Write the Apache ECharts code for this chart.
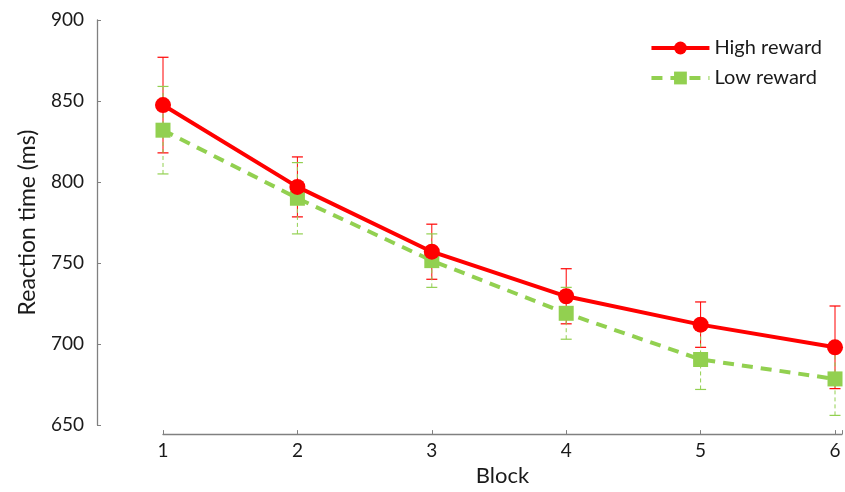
<!DOCTYPE html>
<html>
<head>
<meta charset="utf-8">
<script src="https://cdn.jsdelivr.net/npm/echarts@6/dist/echarts.min.js"></script>
<style>html,body{margin:0;padding:0;background:#fff}#c{width:845px;height:492px}</style>
</head>
<body>
<div id="c"></div>
<script>
const blocks = [1, 2, 3, 4, 5, 6];
const highReward = [847.5, 797, 757, 729.5, 712, 698];
const highErr = [29.5, 18.5, 17, 17, 14, 25.5];
const lowReward = [832, 790, 751.5, 719, 690.5, 678.5];
const lowErr = [27, 22, 16.5, 16, 18.5, 22.5];
const yTicks = [650, 700, 750, 800, 850, 900];

const FONT = 'Lato';
const RED = '#FF0000';
const GREEN = '#92D050';

function errData(vals, errs) {
  return blocks.map((b, i) => [b, vals[i] - errs[i], vals[i] + errs[i]]);
}
function errRender(color, dashed) {
  return function (params, api) {
    const x = api.value(0);
    const lo = api.coord([x, api.value(1)]);
    const hi = api.coord([x, api.value(2)]);
    const hw = 5.5;
    const style = { stroke: color, lineWidth: 1, lineDash: dashed ? [4, 3] : null };
    return {
      type: 'group',
      children: [
        { type: 'line', shape: { x1: lo[0], y1: lo[1], x2: hi[0], y2: hi[1] }, style: style },
        { type: 'line', shape: { x1: hi[0] - hw, y1: hi[1], x2: hi[0] + hw, y2: hi[1] }, style: { stroke: color, lineWidth: 1.2 } },
        { type: 'line', shape: { x1: lo[0] - hw, y1: lo[1], x2: lo[0] + hw, y2: lo[1] }, style: { stroke: color, lineWidth: 1.2 } }
      ]
    };
  };
}

const chart = echarts.init(document.getElementById('c'), null, { renderer: 'canvas' });
chart.setOption({
  animation: false,
  backgroundColor: '#ffffff',
  textStyle: { fontFamily: FONT },
  grid: { left: 163, right: 0, top: 20, bottom: 64, containLabel: false },
  legend: {
    right: 18, top: 33, orient: 'vertical', itemGap: 10,
    itemWidth: 58, itemHeight: 16, itemTextGap: 7,
    lineStyle: { width: 4 },
    textStyle: { fontFamily: FONT, fontSize: 20, color: '#1a1a1a' },
    data: ['High reward', 'Low reward']
  },
  xAxis: {
    type: 'value', min: 1, max: 6.052, interval: 1, offset: 9,
    name: 'Block', nameLocation: 'middle', nameGap: 30,
    nameTextStyle: { fontFamily: FONT, fontSize: 22, color: '#1a1a1a' },
    axisLine: { lineStyle: { color: '#808080', width: 1.3 } },
    axisTick: { inside: true, length: 4, lineStyle: { color: '#808080' } },
    axisLabel: {
      fontFamily: FONT, fontSize: 19, color: '#1a1a1a', margin: 7,
      formatter: v => (blocks.indexOf(v) >= 0 ? String(v) : '')
    },
    splitLine: { show: false }
  },
  yAxis: {
    type: 'value', min: yTicks[0], max: yTicks[yTicks.length - 1], interval: 50, offset: 66,
    name: 'Reaction time (ms)', nameLocation: 'middle', nameGap: 58,
    nameTextStyle: { fontFamily: FONT, fontSize: 23, color: '#1a1a1a' },
    axisLine: { show: true, lineStyle: { color: '#808080', width: 1.3 } },
    axisTick: { show: true, inside: true, length: 4, lineStyle: { color: '#808080' } },
    axisLabel: { fontFamily: FONT, fontSize: 19, color: '#1a1a1a', margin: 13 },
    splitLine: { show: false }
  },
  series: [
    {
      type: 'custom', name: 'High err', data: errData(highReward, highErr),
      renderItem: errRender(RED, false), z: 1, silent: true,
      encode: { x: 0, y: [1, 2] }
    },
    {
      type: 'custom', name: 'Low err', data: errData(lowReward, lowErr),
      renderItem: errRender(GREEN, true), z: 1, silent: true,
      encode: { x: 0, y: [1, 2] }
    },
    {
      type: 'line', name: 'Low reward', data: blocks.map((b, i) => [b, lowReward[i]]),
      symbol: 'rect', symbolSize: 15, z: 3,
      itemStyle: { color: GREEN },
      lineStyle: { color: GREEN, width: 4, type: [11, 8] }
    },
    {
      type: 'line', name: 'High reward', data: blocks.map((b, i) => [b, highReward[i]]),
      symbol: 'circle', symbolSize: 16, z: 4,
      itemStyle: { color: RED },
      lineStyle: { color: RED, width: 4 }
    }
  ]
});
</script>
</body>
</html>
